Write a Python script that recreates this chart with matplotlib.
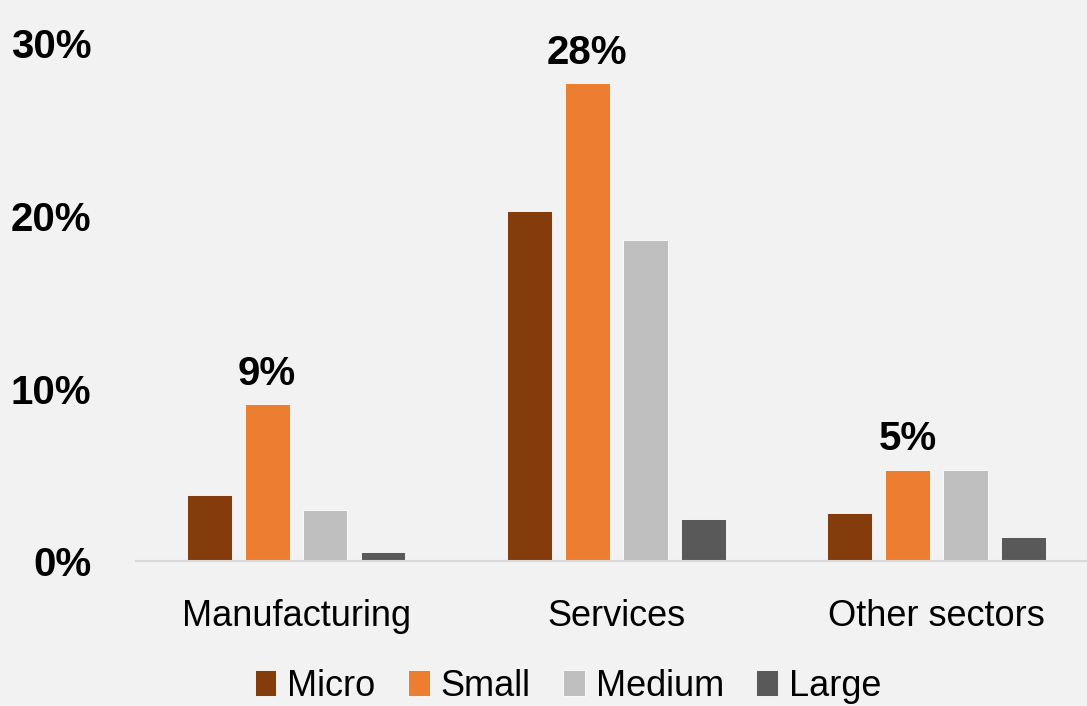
import matplotlib
matplotlib.use("Agg")
import matplotlib.pyplot as plt
import numpy as np
from matplotlib import font_manager

categories = ["Manufacturing", "Services", "Other sectors"]
series_names = ["Micro", "Small", "Medium", "Large"]
micro = [3.85, 20.3, 2.8]
small = [9.1, 27.7, 5.3]
medium = [2.95, 18.6, 5.3]
large = [0.55, 2.45, 1.4]
labels_small = ["9%", "28%", "5%"]
yticks = [0, 10, 20, 30]
ytick_labels = ["0%", "10%", "20%", "30%"]

colors = ["#843C0C", "#ED7D31", "#BFBFBF", "#595959"]
bg = "#F2F2F2"

names = {f.name for f in font_manager.fontManager.ttflist}
narrow = "Liberation Sans Narrow" if "Liberation Sans Narrow" in names else "Liberation Sans"
plt.rcParams['font.family'] = [narrow, 'DejaVu Sans']

fig = plt.figure(figsize=(10.87, 7.06), dpi=100, facecolor=bg)
ax = fig.add_axes([136/1087, (706-561)/706, 1 - 136/1087, (561-43.5)/706])
ax.set_facecolor(bg)

x = np.arange(len(categories))
pitch = 0.181
width = 0.14
data = [micro, small, medium, large]
bars_small = None
for i, (vals, c, n) in enumerate(zip(data, colors, series_names)):
    b = ax.bar(x + (i - 1.5) * pitch, vals, width, color=c, label=n,
               edgecolor="white", linewidth=0.6)
    if n == "Small":
        bars_small = b

for rect, lab in zip(bars_small, labels_small):
    ax.annotate(lab, (rect.get_x() + rect.get_width() / 2, rect.get_height()),
                xytext=(0, 8), textcoords="offset points", ha="center", va="bottom",
                fontsize=29, fontweight="bold", color="black")

ax.set_xlim(-0.5, 2.47)
ax.set_ylim(0, 30)
ax.set_yticks(yticks)
ax.set_yticklabels(ytick_labels, fontsize=29, fontweight="bold")
ax.set_xticks(x)
ax.set_xticklabels(categories, fontsize=26)
ax.tick_params(axis="y", length=0, pad=32)
ax.tick_params(axis="x", length=0, pad=27)
for s in ["top", "right", "left"]:
    ax.spines[s].set_visible(False)
ax.spines["bottom"].set_color("#D9D9D9")
ax.spines["bottom"].set_linewidth(1.5)

fig.legend(loc="center", bbox_to_anchor=(568/1087, 1 - 686/706), ncol=4, frameon=False,
           fontsize=26, handlelength=0.6, handleheight=0.75, handletextpad=0.3,
           columnspacing=0.9, borderpad=0, borderaxespad=0)

fig.savefig("out.png", dpi=100, facecolor=bg)
